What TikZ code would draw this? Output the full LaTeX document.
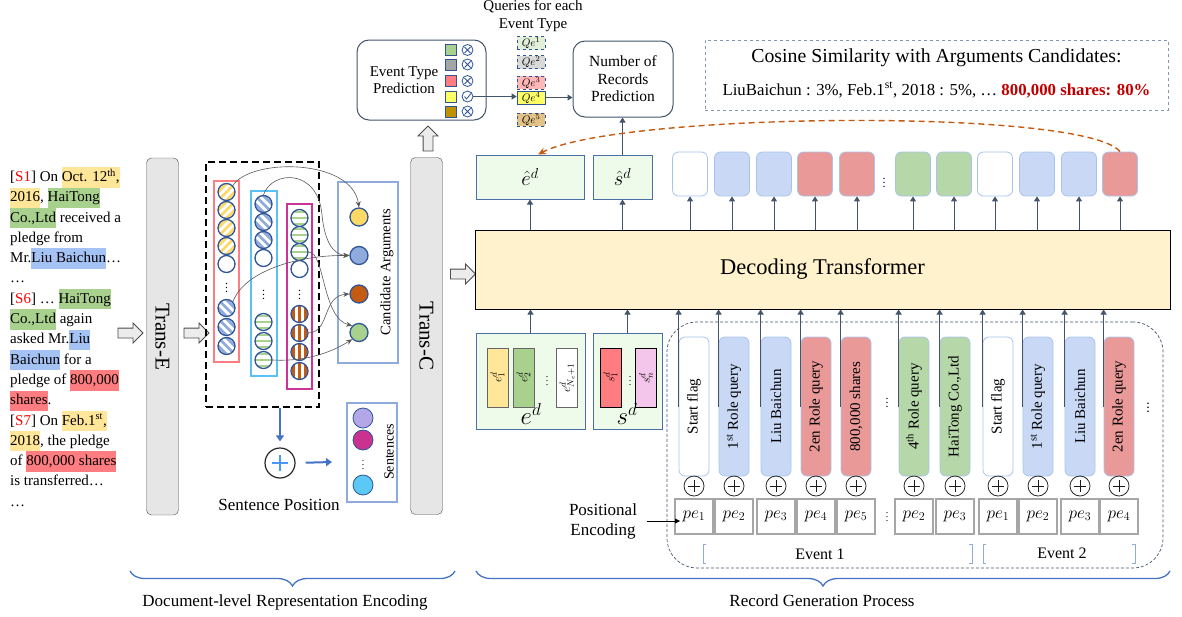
\documentclass[tikz,border=0pt]{standalone}
\usepackage{fontspec}
\setmainfont{Liberation Serif}
\usetikzlibrary{positioning,calc,arrows.meta,shapes.arrows,decorations.pathreplacing}

\definecolor{hlY}{HTML}{FFE699}
\definecolor{hlG}{HTML}{A9D18E}
\definecolor{hlB}{HTML}{A4C2F4}
\definecolor{hlR}{HTML}{FF7C80}
\definecolor{cYel}{HTML}{FFD966}
\definecolor{cBlu}{HTML}{8FAADC}
\definecolor{cOra}{HTML}{C55A11}
\definecolor{cGrn}{HTML}{A9D18E}
\definecolor{edgeB}{HTML}{2F5597}
\definecolor{colR}{HTML}{FF7C80}
\definecolor{colC}{HTML}{5BC0F5}
\definecolor{colM}{HTML}{CC3399}
\definecolor{senL}{HTML}{B4A7E8}
\definecolor{senM}{HTML}{C9328F}
\definecolor{senC}{HTML}{5BC8F5}
\definecolor{transF}{HTML}{E7E6E6}
\definecolor{etG}{HTML}{A9D18E}
\definecolor{etGr}{HTML}{A5A5A5}
\definecolor{etR}{HTML}{FF7C80}
\definecolor{etY}{HTML}{FFFF66}
\definecolor{etB}{HTML}{BF9000}
\definecolor{qe1}{HTML}{E2F0D9}
\definecolor{qe2}{HTML}{D9D9D9}
\definecolor{qe3}{HTML}{FFB7B7}
\definecolor{qe4}{HTML}{FFFF66}
\definecolor{qe5}{HTML}{E2C286}
\definecolor{arr}{HTML}{44546A}
\definecolor{boxE}{HTML}{4A6FA5}
\definecolor{boxG}{HTML}{EEFAEA}
\definecolor{qEdge}{HTML}{A9C4EB}
\definecolor{qBlu}{HTML}{C9D9F5}
\definecolor{qRed}{HTML}{EA9999}
\definecolor{qGrn}{HTML}{B6D7A8}
\definecolor{decY}{HTML}{FFF2CC}
\definecolor{brc}{HTML}{4472C4}
\definecolor{cosB}{HTML}{8497B0}
\definecolor{darkR}{HTML}{C00000}
\definecolor{pinkS}{HTML}{F4C6EC}
\definecolor{peEdge}{HTML}{A6A6A6}

\newcommand{\fs}[2]{\fontsize{#1}{#2}\selectfont}
\newcommand{\hl}[2]{{\setlength{\fboxsep}{0pt}\colorbox{#1}{\strut #2}}}

\tikzset{
  tok/.style={circle, draw=edgeB, line width=1.3pt, minimum size=17pt, inner sep=0pt, fill=white},
  striped/.style n args={2}{tok, path picture={
      \begin{scope}[shift={(path picture bounding box.center)}]
        \foreach \k in {-24,-18,...,24} \draw[#1, line width=2.7pt] #2;
      \end{scope}}},
  tokY/.style={striped={cYel}{(\k*1.4-12,12) -- (\k*1.4+12,-12)}},
  tokB/.style={striped={cBlu}{(\k*1.4-12,-12) -- (\k*1.4+12,12)}},
  tokG/.style={striped={cGrn}{(-12,\k) -- (12,\k)}},
  tokO/.style={striped={cOra}{(\k,-12) -- (\k,12)}},
  tokW/.style={tok},
  dots/.style={inner sep=0pt, font=\fs{12}{12}},
  cand/.style={circle, draw=edgeB, line width=1.3pt, minimum size=18pt, inner sep=0pt, fill=#1},
  colbox/.style={draw=#1, line width=1.6pt, inner sep=0pt},
  hollow/.style={single arrow, draw=gray!60!black, fill=gray!15, line width=0.8pt,
    inner sep=4.5pt, single arrow head extend=5pt, minimum height=25pt},
  trans/.style={draw=gray!60!black, fill=transF, rounded corners=5pt, rotate=-90,
    minimum width=357pt, minimum height=32pt, inner sep=0pt, font=\fs{21}{25}},
  link/.style={draw=gray!70!black, line width=0.6pt, -{Stealth[length=6pt,width=5pt]}},
  up/.style={draw=arr, line width=1pt, -{Triangle[length=5pt,width=6pt]}},
  roundbox/.style={draw=arr, line width=1pt, rounded corners=12pt, inner sep=0pt},
  sqmark/.style={draw=edgeB, line width=0.8pt, minimum size=11pt, inner sep=0pt},
  xmark/.style={circle, draw=edgeB, line width=0.8pt, minimum size=11pt, inner sep=0pt,
    path picture={\draw[edgeB, line width=0.8pt]
      ([shift={(-3pt,-3pt)}]path picture bounding box.center) -- ([shift={(3pt,3pt)}]path picture bounding box.center)
      ([shift={(-3pt,3pt)}]path picture bounding box.center) -- ([shift={(3pt,-3pt)}]path picture bounding box.center);}},
  okmark/.style={circle, draw=edgeB, line width=0.8pt, minimum size=11pt, inner sep=0pt,
    path picture={\draw[edgeB, line width=0.8pt]
      ([shift={(-3pt,0pt)}]path picture bounding box.center) -- ([shift={(-1pt,-2.5pt)}]path picture bounding box.center)
      -- ([shift={(3.5pt,3pt)}]path picture bounding box.center);}},
  qe/.style={draw=edgeB, line width=0.7pt, minimum width=28pt, minimum height=13pt, inner sep=0pt,
    font=\fs{11}{11}},
  outbox/.style={draw=boxE, fill=boxG, line width=1pt, minimum height=44pt, inner sep=0pt, font=\fs{21}{22}},
  ebox/.style={draw=gray!80!black, rotate=90, minimum width=59pt, minimum height=21pt, inner sep=0pt, font=\fs{13}{14}},
  slot/.style={draw=qEdge, line width=0.8pt, rounded corners=6pt, minimum width=35pt, minimum height=44pt, inner sep=0pt},
  query/.style={draw=qEdge, line width=0.8pt, rounded corners=6pt, rotate=90, minimum width=139pt,
    minimum height=30pt, inner sep=0pt, font=\fs{15}{16}},
  oplus/.style={circle, draw=gray!30!black, line width=0.8pt, minimum size=20pt, inner sep=0pt,
    path picture={\draw[gray!20!black, line width=0.9pt]
      ([xshift=-6pt]path picture bounding box.center) -- ([xshift=6pt]path picture bounding box.center)
      ([yshift=-6pt]path picture bounding box.center) -- ([yshift=6pt]path picture bounding box.center);}},
  pebox/.style={draw=peEdge, line width=2pt, minimum width=38pt, minimum height=35pt, inner sep=0pt, font=\fs{17}{18}},
  brk/.style={draw=cBlu, line width=1pt},
  brace/.style={draw=brc, line width=1.3pt, decorate, decoration={brace, amplitude=15pt}},
  bluearr/.style={draw=brc, line width=2pt, -{Triangle[length=6pt,width=8pt]}},
  orarr/.style={draw=cOra, line width=1.4pt, dash pattern=on 6pt off 4pt, -{Stealth[length=8pt,width=7pt]}}
}

\begin{document}
\begin{tikzpicture}[x=1pt,y=-1pt,font=\fs{14}{17}]
\useasboundingbox (0,0) rectangle (1182,616);

% input document
\node[anchor=north west, align=left, inner sep=0pt, font=\fs{15}{20.3}] (doc) at (10,167)
  {{[}\textcolor{red}{S1}{]} On \hl{hlY}{Oct. 12\textsuperscript{th},}\\
   \hl{hlY}{2016}, \hl{hlG}{HaiTong}\\
   \hl{hlG}{Co.,Ltd} received a\\
   pledge from\\
   Mr.\hl{hlB}{Liu Baichun}…\\
   …\\
   {[}\textcolor{red}{S6}{]} … \hl{hlG}{HaiTong}\\
   \hl{hlG}{Co.,Ltd} again\\
   asked Mr.\hl{hlB}{Liu}\\
   \hl{hlB}{Baichun} for a\\
   pledge of \hl{hlR}{800,000}\\
   \hl{hlR}{shares}.\\
   {[}\textcolor{red}{S7}{]} On \hl{hlY}{Feb.1\textsuperscript{st},}\\
   \hl{hlY}{2018}, the pledge\\
   of \hl{hlR}{800,000 shares}\\
   is transferred…\\
   …};

% encoder
\node[hollow] (a1) at (128,333) {};
\node[trans] (transE) at (162.5,336.5) {Trans-E};
\node[hollow] (a2) at (194,333) {};
\node[draw=black, line width=1.8pt, dash pattern=on 7pt off 4pt, minimum width=113pt,
  minimum height=245pt, inner sep=0pt] (ctx) at (262.5,284.5) {};

% mention columns
\node[colbox=colR, minimum width=25pt, minimum height=181pt] (colA) at (226.5,271.5) {};
\node[colbox=colC, minimum width=26pt, minimum height=185pt] (colB) at (264,283.5) {};
\node[colbox=colM, minimum width=25pt, minimum height=185pt] (colC) at (299.5,296.5) {};
\foreach \y/\s [count=\i] in {192/tokY,210/tokY,228/tokY,246/tokY,264/tokW,308/tokB,327/tokB,346/tokB}
  \node[style=\s] (r\i) at (226.5,\y) {};
\foreach \y/\s [count=\i] in {204/tokB,222/tokB,240/tokB,258/tokW,322/tokG,341/tokG,360/tokG}
  \node[style=\s] (m\i) at (263.5,\y) {};
\foreach \y/\s [count=\i] in {218/tokG,235/tokG,252/tokG,269/tokW,314/tokO,333/tokO,352/tokO,371/tokO}
  \node[style=\s] (g\i) at (299.5,\y) {};
\node[dots] (rdots) at (226.5,285) {$\vdots$};
\node[dots] (mdots) at (263.5,292) {$\vdots$};
\node[dots] (gdots) at (299.5,292) {$\vdots$};

% candidate arguments
\node[draw=cBlu, line width=1.5pt, minimum width=60pt, minimum height=181pt, inner sep=0pt] (cbox) at (368,272.5) {};
\node[cand=cYel] (ca1) at (359,217) {};
\node[cand=cBlu] (ca2) at (359,255.5) {};
\node[cand=cOra] (ca3) at (359,294) {};
\node[cand=cGrn] (ca4) at (359,332.5) {};
\node[rotate=90, font=\fs{14.5}{17}] (candT) at (387,272) {Candidate Arguments};

\draw[link] (r1.north east) .. controls (250,158) and (352,158) .. (ca1.north);
\draw[link] (m1.north) .. controls (272,170) and (318,168) .. (322,215) .. controls (325,245) and (335,255) .. (ca2.west);
\draw[link] (r6.north east) .. controls (245,270) and (300,255) .. (ca2.west);
\draw[link] (g3.east) .. controls (325,252) and (322,318) .. (ca4.north west);
\draw[link] (g6.east) .. controls (330,332) and (322,296) .. (ca3.west);
\draw[link] (m7.east) .. controls (310,362) and (335,350) .. (ca4.south west);

% sentences
\node[draw=cBlu, line width=1.5pt, minimum width=50pt, minimum height=99pt, inner sep=0pt] (sbox) at (372,452.5) {};
\node[cand=senL, minimum size=20pt, line width=0.8pt] (s1) at (363,418) {};
\node[cand=senM, minimum size=20pt, line width=0.8pt] (s2) at (363,440) {};
\node[dots, font=\fs{10}{10}] (sdots) at (363,462) {$\vdots$};
\node[cand=senC, minimum size=20pt, line width=0.8pt] (s3) at (363,485) {};
\node[rotate=90, font=\fs{14}{17}] (sentT) at (389,452) {Sentences};

\node[circle, draw=gray!30!black, line width=1.2pt, minimum size=30pt, inner sep=0pt,
  path picture={\draw[colC!80!blue, line width=1.6pt]
    ([xshift=-8pt]path picture bounding box.center) -- ([xshift=8pt]path picture bounding box.center)
    ([yshift=-8pt]path picture bounding box.center) -- ([yshift=8pt]path picture bounding box.center);}] (splus) at (280,463) {};
\coordinate (sentIn) at (332,462);
\draw[bluearr] (ctx.south -| splus.north) -- ([yshift=6pt]splus.north);
\draw[bluearr, shorten <=10pt] (splus.east) -- (sentIn);
\node[font=\fs{17}{19}] (sposT) at (279,505) {Sentence Position};

\node[trans, rotate=0] (transC) at (426.5,336) {Trans-C};
\node[hollow] (a3) at (460.5,274) {};
\node[hollow, shape border rotate=90] (a4) at (428,141) {};

% event type and record number prediction
\node[roundbox, minimum width=129pt, minimum height=80pt] (etp) at (421.5,80) {};
\node[font=\fs{15}{17}, align=center] (etpT) at (404,80) {Event Type\\Prediction};
\foreach \y/\col/\mk [count=\i] in {50/etG/xmark,64.5/etGr/xmark,81/etR/xmark,96.5/etY/okmark,111.5/etB/xmark}{
  \node[sqmark, fill=\col] (sq\i) at (450.5,\y) {};
  \node[style=\mk] (x\i) at (467.5,\y) {};
}
\node[font=\fs{15}{17.5}, align=center] (qhead) at (533,16) {Queries for each\\Event Type};
\foreach \y/\col/\dsh [count=\i] in {43/qe1/dashed,62/qe2/dashed,82.5/qe3/dashed,97.5/qe4/solid,119.5/qe5/dashed}
  \node[qe, fill=\col, style=\dsh] (qe\i) at (531,\y) {$Qe^{\i}$};
\node[roundbox, minimum width=100pt, minimum height=76pt, align=center, font=\fs{15.5}{17.5}] (rec) at (623,79)
  {Number of\\Records\\Prediction};
\draw[up] (x4.east) -- (x4.east -| qe4.west);
\draw[up] (qe4.east) -- (qe4.east -| rec.west);

% cosine similarity
\node[draw=cosB, dashed, line width=0.9pt, minimum width=463pt, minimum height=70pt] (cosbox) at (936.5,75) {};
\node[font=\fs{19.8}{22}] (cos1) at (936.5,58) {Cosine Similarity with Arguments Candidates:};
\node[font=\fs{16.8}{19}] (cos2) at (936.5,90)
  {LiuBaichun : 3\%, Feb.1\textsuperscript{st}, 2018 : 5\%, … \textcolor{darkR}{\textbf{800,000 shares: 80\%}}};

% decoder
\node[draw=black, fill=decY, line width=1pt, minimum width=695pt, minimum height=79pt,
  font=\fs{22.5}{25}] (dec) at (822.5,269.5) {Decoding Transformer};
\node[outbox, minimum width=108pt] (eh) at (530,177) {$\hat{e}^d$};
\node[outbox, minimum width=59pt] (sh) at (622.5,177) {$\hat{s}^d$};
\draw[up] (dec.north -| eh.south) -- (eh.south);
\draw[up] (dec.north -| sh.south) -- (sh.south);
\draw[up] (sh.north) -- (sh.north |- rec.south);
\foreach \cx/\col [count=\i] in {690/white,732/qBlu,774/qBlu,815/qRed,857/qRed,913/qGrn,954/qGrn,995/white,1037/qBlu,1079/qBlu,1120/qRed}{
  \node[slot, fill=\col] (t\i) at (\cx,174) {};
  \draw[up] (dec.north -| t\i.south) -- (t\i.south);
}
\node[dots] (tdots) at (884,180) {$\vdots$};
\draw[orarr] (t11.north) .. controls (1085,108) and (620,112) .. ([xshift=8pt]eh.north);

% document and sentence embeddings
\node[outbox, minimum width=109pt, minimum height=96pt] (ed) at (530.5,381) {};
\node[ebox, fill=hlY] (e1) at (497.5,377.5) {$e^d_1$};
\node[ebox, fill=hlG] (e2) at (523.5,377.5) {$e^d_2$};
\node[dots, font=\fs{10}{10}] (edots) at (547,378) {$\vdots$};
\node[ebox, fill=white] (eN) at (567,378) {$e^d_{N_e+1}$};
\node[font=\fs{23}{24}] (edT) at (531,414) {$e^d$};
\node[outbox, minimum width=69pt, minimum height=96pt] (sd) at (627.5,381) {};
\node[ebox, draw=black, fill=hlR] (sd1) at (610.5,377.5) {$s^d_1$};
\node[dots, font=\fs{10}{10}] (sddots) at (630,378) {$\vdots$};
\node[ebox, draw=black, fill=pinkS] (sdN) at (646,378) {$s^d_n$};
\node[font=\fs{23}{24}] (sdT) at (627,414) {$s^d$};
\draw[up] (ed.north) -- (ed.north |- dec.south);
\draw[up] (sd.north) -- (sd.north |- dec.south);

% record queries
\node[draw=arr, dash pattern=on 3pt off 2pt, line width=0.7pt, rounded corners=30pt,
  minimum width=496pt, minimum height=246pt] (evts) at (915,445) {};
\foreach \cx/\col/\txt/\pe [count=\i] in {694/white/Start flag/1, 734/qBlu/1\textsuperscript{st} Role query/2,
    776/qBlu/Liu Baichun/3, 816/qRed/2en Role query/4, 856/qRed/{800,000 shares}/5,
    914/qGrn/4\textsuperscript{th} Role query/2, 955/qGrn/{HaiTong Co.,Ltd}/3, 998/white/Start flag/1,
    1038/qBlu/1\textsuperscript{st} Role query/2, 1080/qBlu/Liu Baichun/3, 1119/qRed/2en Role query/4}{
  \node[query, fill=\col] (q\i) at (\cx,406.5) {\txt};
  \node[oplus] (p\i) at (\cx,486) {};
  \node[pebox] (pe\i) at (\cx,516) {$pe_{\pe}$};
  \draw[up] (q\i.north) -- (q\i.north |- dec.south);
}
\node[dots] (qdots) at (887,400) {$\vdots$};
\node[dots, font=\fs{10}{10}] (pedots) at (887,514) {$\vdots$};
\node[dots, font=\bfseries] (enddots) at (1148,405) {$\vdots$};

\node[font=\fs{17}{20}, align=center] (posenc) at (603,521) {Positional\\Encoding};
\draw[-{Triangle[length=5pt,width=5pt]}, line width=0.8pt] ([xshift=6pt]posenc.east) -- ([xshift=6pt]posenc.east -| pe1.west);

% events
\draw[brk] (706,544) -- (703,544) -- (703,563) -- (706,563);
\draw[brk] (969,544) -- (972,544) -- (972,563) -- (969,563);
\draw[brk] (986,544) -- (983,544) -- (983,563) -- (986,563);
\draw[brk] (1132,544) -- (1135,544) -- (1135,563) -- (1132,563);
\node[font=\fs{16}{18}] (ev1) at (820,554) {Event 1};
\node[font=\fs{16}{18}] (ev2) at (1062,553) {Event 2};

% stages
\draw[brace] (455,571) -- (130,571);
\draw[brace] (1170,571) -- (476,571);
\node[font=\fs{17}{19}] (stage1) at (285,602) {Document-level Representation Encoding};
\node[font=\fs{17}{19}] (stage2) at (822,601) {Record Generation Process};
\end{tikzpicture}
\end{document}
